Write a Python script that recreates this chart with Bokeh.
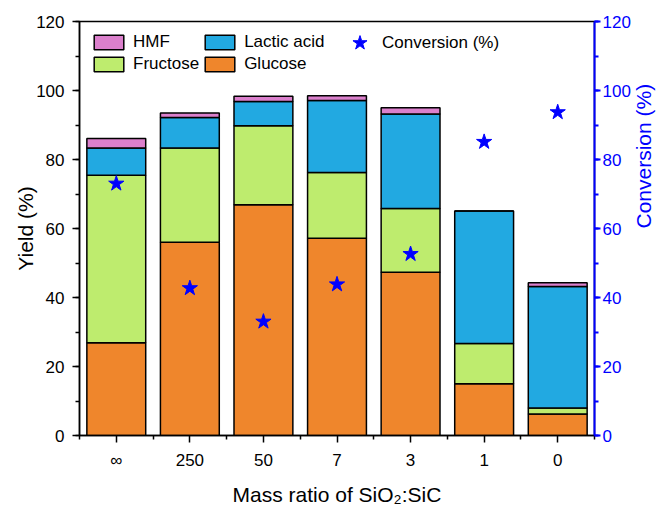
import math
from bokeh.plotting import figure
from bokeh.models import (Range1d, LinearAxis, FixedTicker, Legend, LegendItem,
                          ColumnDataSource)
from bokeh.embed import file_html
from bokeh.resources import INLINE

# ---- data ----
ratios = ["∞", "250", "50", "7", "3", "1", "0"]
glucose = [26.9, 56.0, 66.9, 57.2, 47.3, 15.0, 6.2]
fructose = [48.5, 27.3, 22.9, 19.0, 18.5, 11.7, 1.8]
lactic = [7.9, 8.9, 7.0, 20.9, 27.4, 38.4, 35.2]
hmf = [2.8, 1.3, 1.5, 1.4, 1.8, 0.0, 1.1]
conversion = [73.0, 42.7, 33.0, 43.8, 52.6, 85.1, 93.7]
yield_ticks = [0, 20, 40, 60, 80, 100, 120]

FONT = "Liberation Sans"
colors = {"Glucose": "#EF862C", "Fructose": "#BEEC6E",
          "Lactic acid": "#22A9E1", "HMF": "#DB80CC"}

xs = list(range(len(ratios)))
src = ColumnDataSource(dict(x=xs, Glucose=glucose, Fructose=fructose,
                            Lactic=lactic, HMF=hmf, conv=conversion))

p = figure(width=669, height=508, output_backend="svg", toolbar_location=None,
           x_range=Range1d(-0.5, len(ratios) - 0.5), y_range=Range1d(0, 120),
           min_border_left=79, min_border_right=73, min_border_top=21,
           min_border_bottom=71)
p.extra_y_ranges = {"conv": Range1d(0, 120)}
p.grid.visible = False
p.outline_line_color = "black"
p.outline_line_width = 1.5
p.background_fill_color = "white"
p.border_fill_color = "white"

stack_keys = ["Glucose", "Fructose", "Lactic", "HMF"]
stack_names = ["Glucose", "Fructose", "Lactic acid", "HMF"]
rends = p.vbar_stack(stack_keys, x="x", width=0.8, source=src,
                     color=[colors[n] for n in stack_names],
                     line_color="black", line_width=1.5)
star = p.scatter("x", "conv", source=src, marker="star", size=16,
                 color="#0000FF", y_range_name="conv")

# axes
xa = p.xaxis[0]
xa.ticker = FixedTicker(ticks=xs, minor_ticks=[i - 0.5 for i in range(len(ratios) + 1)])
xa.major_label_overrides = {i: r for i, r in enumerate(ratios)}
xa.axis_label = "Mass ratio of SiO\u2082:SiC"

ya = p.yaxis[0]
ya.ticker = FixedTicker(ticks=yield_ticks, minor_ticks=list(range(0, 121, 10)))
ya.axis_label = "Yield (%)"

ra = LinearAxis(y_range_name="conv", axis_label="Conversion (%)")
ra.ticker = FixedTicker(ticks=yield_ticks, minor_ticks=list(range(0, 121, 10)))
p.add_layout(ra, "right")

for ax, col, lw in [(xa, "black", 1.5), (ya, "black", 1.5), (ra, "#0000FF", 2)]:
    ax.axis_line_color = col
    ax.axis_line_width = lw
    ax.major_tick_line_color = col
    ax.minor_tick_line_color = col
    ax.major_tick_line_width = lw
    ax.minor_tick_line_width = lw
    ax.major_tick_in = 0
    ax.major_tick_out = 7
    ax.minor_tick_in = 0
    ax.minor_tick_out = 4
    ax.major_label_text_color = col
    ax.axis_label_text_color = col
    ax.major_label_text_font = FONT
    ax.axis_label_text_font = FONT
    ax.major_label_text_font_size = "17px"
    ax.axis_label_text_font_size = "21px"
    ax.axis_label_text_font_style = "normal"

ya.major_label_standoff = 8
ya.axis_label_standoff = -4
xa.major_label_standoff = 8
xa.axis_label_standoff = 10
ra.major_tick_out = 6
ra.major_label_standoff = 2
ra.axis_label_standoff = 10
ra.axis_label_orientation = math.pi / 2   # read bottom-to-top

main_items = [LegendItem(label="HMF", renderers=[rends[3]]),
              LegendItem(label="Fructose", renderers=[rends[1]]),
              LegendItem(label="Lactic acid", renderers=[rends[2]]),
              LegendItem(label="Glucose", renderers=[rends[0]])]
leg = Legend(items=main_items, location="top_left", orientation="vertical", nrows=2,
             glyph_width=37, glyph_height=18, label_standoff=6, spacing=2,
             label_width=60, padding=0, margin=11, border_line_color=None,
             background_fill_alpha=0, label_text_font=FONT,
             label_text_font_size="17px", label_text_color="black",
             label_height=18)
p.add_layout(leg, "center")

leg2 = Legend(items=[LegendItem(label="Conversion (%)", renderers=[star])],
              location=(262, 374), glyph_width=37, glyph_height=37,
              label_standoff=4, padding=0, margin=0, border_line_color=None,
              background_fill_alpha=0, label_text_font=FONT,
              label_text_font_size="17px", label_text_color="black")
p.add_layout(leg2, "center")

open("out.html", "w").write(file_html(p, INLINE))
